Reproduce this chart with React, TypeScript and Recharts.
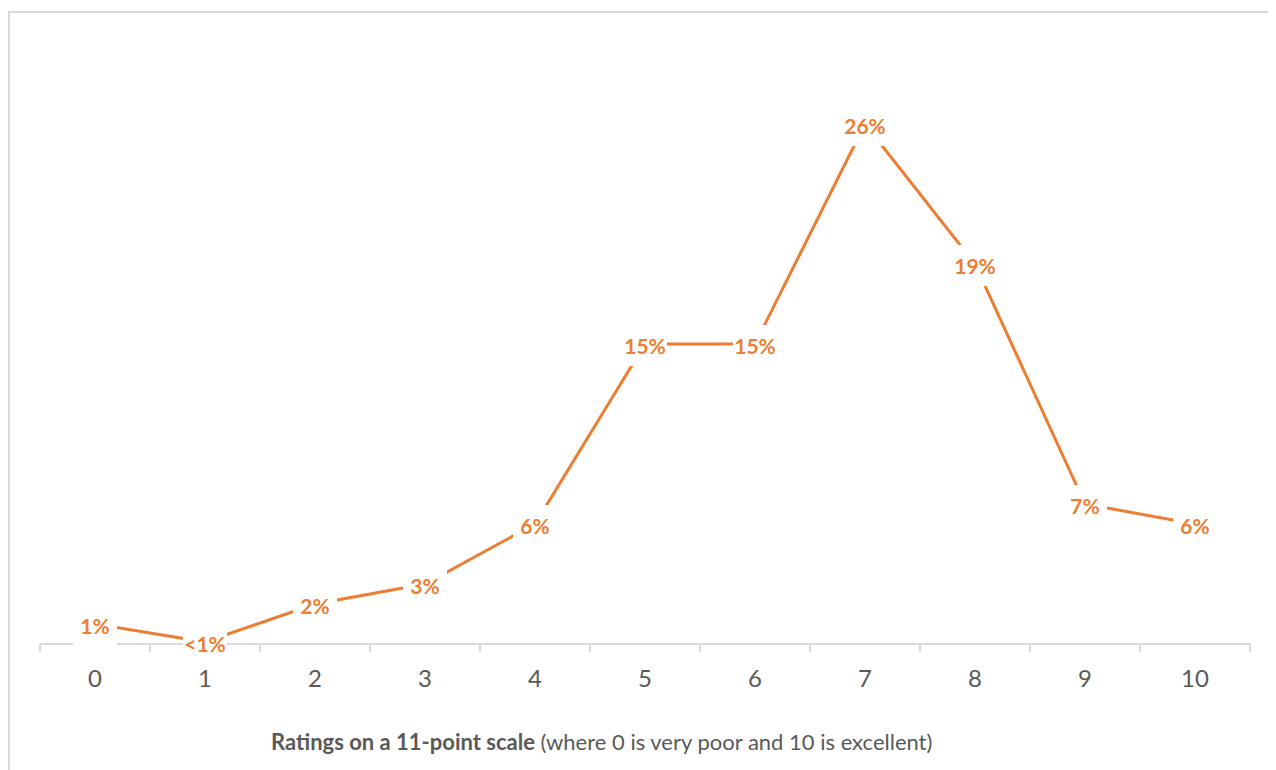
import { LineChart, Line, XAxis, YAxis, LabelList } from 'recharts';

const ratings = ['0', '1', '2', '3', '4', '5', '6', '7', '8', '9', '10'];
const shares = [1, 0.1, 2, 3, 6, 15, 15, 26, 19, 7, 6];
const shareLabels = ['1%', '<1%', '2%', '3%', '6%', '15%', '15%', '26%', '19%', '7%', '6%'];

const data = ratings.map((r, i) => ({ rating: r, share: shares[i], label: shareLabels[i] }));

const W = 1262;
const H = 750;
const M = { top: 31, right: 22, bottom: 0, left: 30 };
const BAND = (W - M.left - M.right) / ratings.length;
const ORANGE = '#ED7D31';
const GREY = '#595959';
const FONT = 'Lato, "Open Sans", sans-serif';

const RatingTick = (props: any) => {
  const { x, y, payload, index } = props;
  const last = index === ratings.length - 1;
  return (
    <g>
      <line x1={x - BAND / 2} y1={y} x2={x - BAND / 2} y2={y + 8} stroke="#d9d9d9" strokeWidth={2} />
      {last && <line x1={x + BAND / 2} y1={y} x2={x + BAND / 2} y2={y + 8} stroke="#d9d9d9" strokeWidth={2} />}
      <text x={x} y={y + 43} textAnchor="middle" fontSize={24} fill={GREY} fontFamily={FONT}>
        {payload.value}
      </text>
    </g>
  );
};

const PointLabel = (props: any) => {
  const { x, y, index } = props;
  return (
    <g>
      <rect x={x - 22} y={y - 19} width={44} height={41} fill="#fff" />
      <text x={x} y={y + 10} textAnchor="middle" fontSize={21} fontWeight={700} fill={ORANGE} fontFamily={FONT}>
        {shareLabels[index]}
      </text>
    </g>
  );
};

const AxisTitle = (props: any) => {
  const { viewBox } = props;
  return (
    <text x={viewBox.x + 231} y={viewBox.y + 106} fontSize={22} fill={GREY} fontFamily={FONT}>
      <tspan fontWeight={700}>Ratings on a 11-point scale</tspan>
      <tspan> (where 0 is very poor and 10 is excellent)</tspan>
    </text>
  );
};

export default function App() {
  return (
    <div style={{ position: 'relative', top: 3, width: 1280, height: 780, border: '2px solid #d9d9d9', boxSizing: 'border-box' }}>
      <LineChart width={W} height={H} data={data} margin={M}>
        <XAxis
          dataKey="rating"
          scale="band"
          height={H - M.top - 600}
          axisLine={{ stroke: '#d9d9d9', strokeWidth: 2 }}
          tickLine={false}
          tickSize={0}
          tickMargin={0}
          interval={0}
          tick={<RatingTick />}
          label={<AxisTitle />}
        />
        <YAxis hide domain={[0, 30]} />
        <Line
          dataKey="share"
          stroke={ORANGE}
          strokeWidth={3}
          dot={false}
          isAnimationActive={false}
        >
          <LabelList dataKey="label" content={<PointLabel />} />
        </Line>
      </LineChart>
    </div>
  );
}
